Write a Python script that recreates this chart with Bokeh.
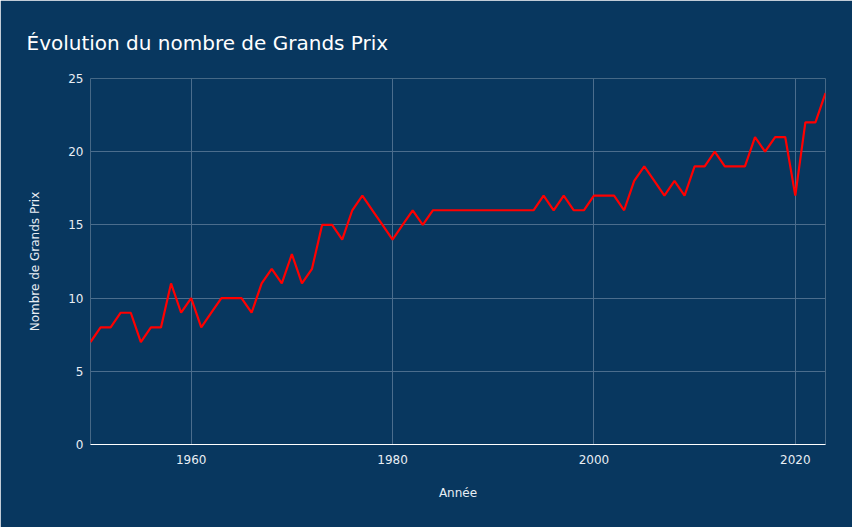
from bokeh.plotting import figure
from bokeh.embed import file_html
from bokeh.resources import INLINE
from bokeh.models import ColumnDataSource, FixedTicker, Range1d

years = list(range(1950, 2024))
races = [7, 8, 8, 9, 9, 7, 8, 8, 11, 9,
         10, 8, 9, 10, 10, 10, 9, 11, 12, 11,
         13, 11, 12, 15, 15, 14, 16, 17, 16, 15,
         14, 15, 16, 15, 16, 16, 16, 16, 16, 16,
         16, 16, 16, 16, 16, 17, 16, 17, 16, 16,
         17, 17, 17, 16, 18, 19, 18, 17, 18, 17,
         19, 19, 20, 19, 19, 19, 21, 20, 21, 21,
         17, 22, 22, 24]
x_ticks = [1960, 1980, 2000, 2020]
y_ticks = [0, 5, 10, 15, 20, 25]

BG = "#08375f"
GRID = "#4b6d8d"
FONT = "DejaVu Sans"

src = ColumnDataSource(dict(x=years, y=races))

p = figure(width=852, height=527, output_backend="svg", toolbar_location=None,
           x_range=Range1d(1950, 2023), y_range=Range1d(0, 25),
           min_border_left=90, min_border_right=27, min_border_top=78, min_border_bottom=83,
           title="Évolution du nombre de Grands Prix")
p.background_fill_color = BG
p.border_fill_color = BG
p.outline_line_color = None

p.title.text_color = "white"
p.title.text_font = FONT
p.title.text_font_size = "20px"
p.title.text_font_style = "normal"
p.title.offset = -64
p.title.standoff = 48

p.line("x", "y", source=src, line_color="#ff0000", line_width=2.2)

p.xgrid.ticker = FixedTicker(ticks=x_ticks)
p.ygrid.ticker = FixedTicker(ticks=y_ticks)
p.grid.grid_line_color = GRID
p.grid.grid_line_width = 1

p.xaxis.ticker = FixedTicker(ticks=x_ticks)
p.yaxis.ticker = FixedTicker(ticks=y_ticks)
p.xaxis.axis_label = "Année"
p.yaxis.axis_label = "Nombre de Grands Prix"

for ax in (p.xaxis[0], p.yaxis[0]):
    ax.major_tick_line_color = None
    ax.minor_tick_line_color = None
    ax.major_tick_out = 0
    ax.major_tick_in = 0
    ax.minor_tick_out = 0
    ax.minor_tick_in = 0
    ax.major_label_text_color = "#e8eef4"
    ax.major_label_text_font = FONT
    ax.major_label_text_font_size = "12px"
    ax.axis_label_text_color = "#e8eef4"
    ax.axis_label_text_font = FONT
    ax.axis_label_text_font_size = "12px"
    ax.axis_label_text_font_style = "normal"

p.xaxis.axis_line_color = "white"
p.xaxis.axis_line_width = 1
p.yaxis.axis_line_color = None
p.xaxis.major_label_standoff = 10
p.xaxis.axis_label_standoff = 19
p.yaxis.major_label_standoff = 7
p.yaxis.axis_label_standoff = 23

html = file_html(p, INLINE)
html = html.replace("<body>", '<body style="margin:0;background-color:%s;">' % BG, 1)
open("out.html", "w").write(html)
